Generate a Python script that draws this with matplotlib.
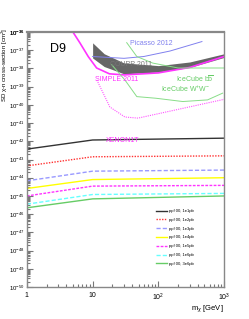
"""SD WIMP-neutron cross-section limits vs. D9 operator sensitivity curves."""

import matplotlib

matplotlib.use("Agg")
import matplotlib.pyplot as plt
import numpy as np
from matplotlib.ticker import FixedLocator, FixedFormatter, LogLocator, NullFormatter

plt.rcParams["font.family"] = ["Liberation Sans", "DejaVu Sans"]
plt.rcParams["mathtext.fontset"] = "custom"
plt.rcParams["mathtext.rm"] = "Liberation Sans"
plt.rcParams["mathtext.it"] = "Liberation Sans:italic"
plt.rcParams["axes.unicode_minus"] = False

# operator sensitivity curves (log10 sigma in cm^2) at these masses
mass_points = [1, 10, 1000]
sens_labels = [
    "ppf 00, 1e1pb",
    "ppf 00, 1e2pb",
    "ppf 00, 1e3pb",
    "ppf 00, 1e4pb",
    "ppf 00, 1e5pb",
    "ppf 00, 1e6pb",
    "ppf 00, 3e6pb",
]
sens_log_sigma = [
    [-42.43, -41.93, -41.83],
    [-43.35, -42.85, -42.80],
    [-44.17, -43.64, -43.58],
    [-44.59, -44.10, -44.00],
    [-45.00, -44.46, -44.42],
    [-45.45, -44.92, -44.86],
    [-45.65, -45.16, -45.00],
]
sens_colors = ["#333333", "#ff3333", "#9999ff", "#ffff00", "#ff33ff", "#66ffff", "#66cc66"]
sens_styles = ["-", (0, (1, 1)), (0, (3, 1.5)), "-", (0, (2, 1)), (0, (3, 1.5)), "-"]

# experimental limits
simple_mass = [5, 6.4, 8.6, 11.5, 18, 30, 100, 300, 1000]
simple_log = [-36.0, -36.6, -37.36, -37.98, -38.3, -38.36, -38.25, -37.95, -37.35]

simple_proj_mass = [11.6, 18.3, 31, 49, 1000]
simple_proj_log = [-38.64, -40.12, -40.67, -40.73, -39.7]

coupp_mass = [10, 15, 30, 100, 300, 1000]
coupp_upper_log = [-36.6, -37.2, -37.7, -37.85, -37.65, -37.2]
coupp_lower_log = [-37.43, -37.9, -38.3, -38.2, -37.95, -37.4]

picasso_mass = [10, 30, 60, 150, 460]
picasso_log = [-37.35, -37.45, -37.35, -37.05, -36.53]

icecube_bb_mass = [33, 47, 82, 200, 1000]
icecube_bb_log = [-36.59, -37.35, -37.71, -37.98, -37.98]

icecube_ww_mass = [19.5, 31, 47, 92, 235, 560, 950]
icecube_ww_log = [-37.8, -38.64, -39.55, -39.64, -39.82, -39.73, -39.36]

y_decades = list(range(-50, -35))
x_ticks = [1, 10, 100, 1000]
x_tick_labels = ["1", "10", "$10^{2}$", "$10^{3}$"]

fig = plt.figure(figsize=(2.49, 3.19), dpi=100)
ax = fig.add_axes([0.108, 0.100, 0.792, 0.800])

for logs, color, style, label in zip(sens_log_sigma, sens_colors, sens_styles, sens_labels):
    ax.plot(mass_points, 10.0 ** np.array(logs), color=color, linestyle=style, lw=1.0, label=label)

ax.fill_between(coupp_mass, 10.0 ** np.array(coupp_lower_log), 10.0 ** np.array(coupp_upper_log),
                color="#666666", lw=0)
ax.plot(simple_mass, 10.0 ** np.array(simple_log), color="#ff33ff", lw=1.2)
ax.plot(simple_proj_mass, 10.0 ** np.array(simple_proj_log), color="#ff55ff", lw=0.8,
        linestyle=(0, (1, 1)))
ax.plot(picasso_mass, 10.0 ** np.array(picasso_log), color="#8080ee", lw=0.7)
ax.plot(icecube_bb_mass, 10.0 ** np.array(icecube_bb_log), color="#88dd88", lw=0.7)
ax.plot(icecube_ww_mass, 10.0 ** np.array(icecube_ww_log), color="#88dd88", lw=0.7)

ax.set_xscale("log")
ax.set_yscale("log")
ax.set_xlim(1, 1000)
ax.set_ylim(1e-50, 1e-36)

ax.yaxis.set_major_locator(FixedLocator([10.0 ** d for d in y_decades + [-36]]))
ax.yaxis.set_major_formatter(FixedFormatter([f"$10^{{{d}}}$" for d in y_decades + [-36]]))
ax.yaxis.set_minor_locator(LogLocator(base=10, subs=np.arange(2, 10), numticks=100))
ax.yaxis.set_minor_formatter(NullFormatter())
ax.xaxis.set_major_locator(FixedLocator(x_ticks))
ax.xaxis.set_major_formatter(FixedFormatter(x_tick_labels))
ax.xaxis.set_minor_locator(LogLocator(base=10, subs=np.arange(2, 10), numticks=100))
ax.xaxis.set_minor_formatter(NullFormatter())

ax.tick_params(which="both", direction="in", top=False, right=False, labelsize=5,
               color="#777777", width=0.8)
ax.tick_params(which="major", length=4)
ax.tick_params(which="minor", length=2.2)
ax.tick_params(axis="y", pad=1.5, labelsize=4.3)
ax.tick_params(axis="x", pad=3.5)
for spine in ax.spines.values():
    spine.set_color("#888888")
    spine.set_linewidth(1.0)
ax.spines["top"].set_linewidth(1.6)

# curve labels
ax.text(0.632, 0.954, "Picasso 2012", transform=ax.transAxes, fontsize=5, color="#8080ee",
        ha="center", va="center")
ax.text(0.53, 0.873, "COUPP 2011", transform=ax.transAxes, fontsize=5, color="#777777",
        ha="center", va="center")
ax.text(0.457, 0.815, "SIMPLE 2011", transform=ax.transAxes, fontsize=5, color="#ff33ff",
        ha="center", va="center")
ax.text(0.85, 0.815, r"IceCube b$\overline{\mathrm{b}}$", transform=ax.transAxes, fontsize=5,
        color="#66cc66", ha="center", va="center")
ax.text(0.805, 0.775, "IceCube W$^{+}$W$^{-}$", transform=ax.transAxes, fontsize=5,
        color="#66cc66", ha="center", va="center")
ax.text(0.487, 0.573, "XENON1T", transform=ax.transAxes, fontsize=5, color="#ff33ff",
        ha="center", va="center")
ax.text(0.117, 0.933, "D9", transform=ax.transAxes, fontsize=9, ha="left", va="center")

ax.legend(loc="upper left", bbox_to_anchor=(0.62, 0.35), bbox_transform=fig.transFigure,
          frameon=False, fontsize=3, handlelength=2.6, handletextpad=0.5, labelspacing=1.15,
          borderaxespad=0)

fig.text(4.6 / 249, 1 - 28 / 319, "SD χ-n cross-section [cm$^{2}$]", rotation=90,
         ha="center", va="top", fontsize=4.4)
fig.text(224 / 249, 1 - 309 / 319, "m$_{\\chi}$ [GeV]", ha="right", va="center", fontsize=5.5)

fig.savefig("out.png", dpi=100)
